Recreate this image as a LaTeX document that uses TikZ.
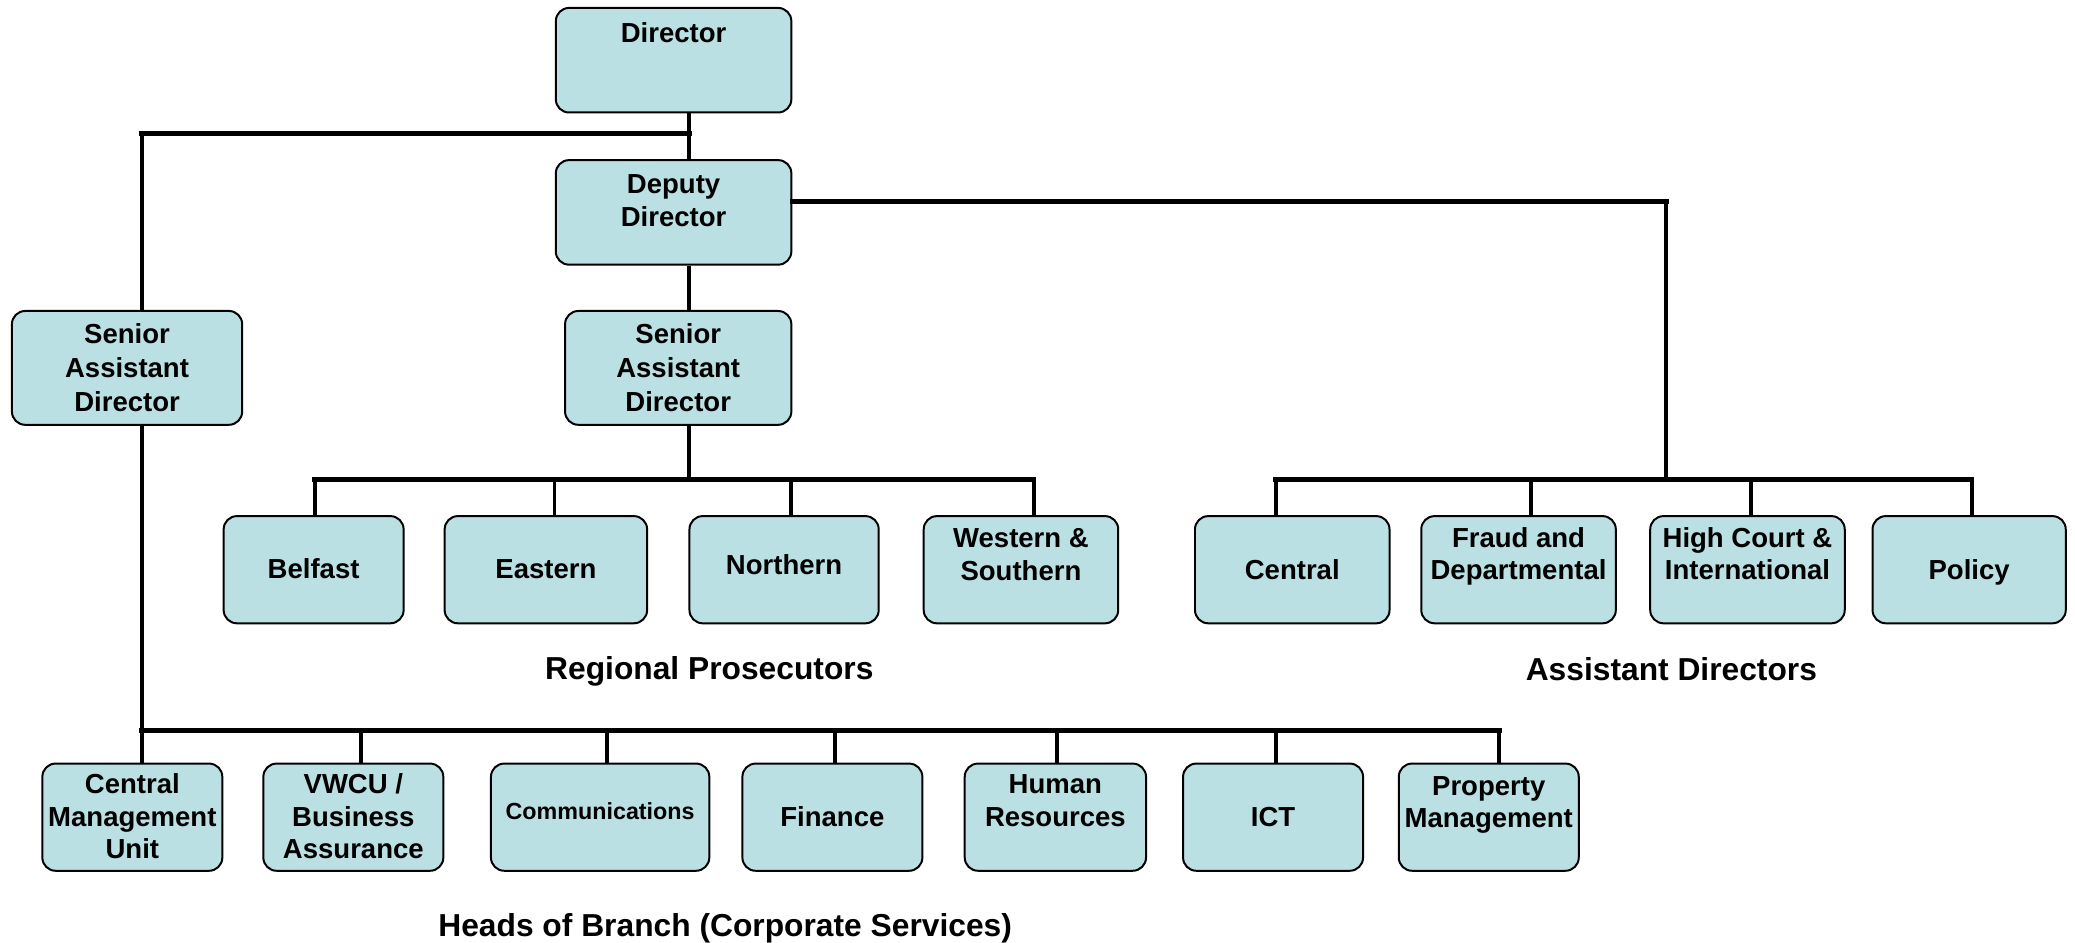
\documentclass[tikz,border=0pt]{standalone}
\usepackage{fontspec}
\setmainfont{Liberation Sans}
\definecolor{boxfill}{RGB}{187,224,227}
\newcommand{\bt}[2]{\raisebox{\dimexpr #1-0.36em\relax}[0pt][0pt]{\begin{tabular}[c]{@{}c@{}}#2\end{tabular}}}
\tikzset{
  orgbox/.style 2 args={draw=black, line width=1.5pt, fill=boxfill, rounded corners=10pt,
    inner sep=0pt, minimum width=#1, minimum height=#2,
    font=\fontsize{20.8}{24.5}\selectfont\bfseries},
  link/.style={line width=3pt},
  bus/.style={line width=3.8pt, line cap=rect},
  grouplabel/.style={font=\fontsize{24}{28}\selectfont\bfseries, inner sep=0pt},
}
\begin{document}
\begin{tikzpicture}[x=1pt,y=-1pt]
\fill[white] (0,0) rectangle (1568,712);
\useasboundingbox (0,0) rectangle (1568,712);

% top
\node[orgbox={178pt}{79pt}] (dir) at (509,45.5) {\bt{20.5pt}{Director}};
\node[orgbox={178pt}{79pt}] (dep) at (509,160.5) {\bt{9pt}{Deputy\\Director}};
\node[orgbox={174pt}{86pt}, font=\fontsize{20.8}{25.5}\selectfont\bfseries] (sad1) at (96,278) {\bt{0pt}{Senior\\Assistant\\Director}};
\node[orgbox={171pt}{86pt}, font=\fontsize{20.8}{25.5}\selectfont\bfseries] (sad2) at (512.5,278) {\bt{0pt}{Senior\\Assistant\\Director}};

% regional prosecutors
\node[orgbox={136pt}{81pt}] (belfast) at (237,430.5) {\bt{0.5pt}{Belfast}};
\node[orgbox={153pt}{81pt}] (eastern) at (412.5,430.5) {\bt{0.5pt}{Eastern}};
\node[orgbox={143pt}{81pt}] (northern) at (592.5,430.5) {\bt{3.5pt}{Northern}};
\node[orgbox={147pt}{81pt}] (western) at (771.5,430.5) {\bt{11.5pt}{Western \&\\Southern}};

% assistant directors
\node[orgbox={147pt}{81pt}] (central) at (976.5,430.5) {\bt{0pt}{Central}};
\node[orgbox={147pt}{81pt}] (fraud) at (1147.5,430.5) {\bt{12pt}{Fraud and\\Departmental}};
\node[orgbox={147pt}{81pt}] (high) at (1320.5,430.5) {\bt{12pt}{High Court \&\\International}};
\node[orgbox={146pt}{81pt}] (policy) at (1488,430.5) {\bt{0pt}{Policy}};

% heads of branch
\node[orgbox={136pt}{81pt}] (cmu) at (100,617.5) {\bt{0.5pt}{Central\\Management\\Unit}};
\node[orgbox={136pt}{81pt}] (vwcu) at (267,617.5) {\bt{0.5pt}{VWCU /\\Business\\Assurance}};
\node[orgbox={165pt}{81pt}, font=\fontsize{17.6}{21}\selectfont\bfseries] (comm) at (453.5,617.5) {\bt{4.5pt}{Communications}};
\node[orgbox={136pt}{81pt}] (fin) at (629,617.5) {\bt{0.5pt}{Finance}};
\node[orgbox={137pt}{81pt}] (hr) at (797.5,617.5) {\bt{12.5pt}{Human\\Resources}};
\node[orgbox={136pt}{81pt}] (ict) at (962,617.5) {\bt{0.5pt}{ICT}};
\node[orgbox={136pt}{81pt}] (prop) at (1125,617.5) {\bt{11.5pt}{Property\\Management}};

% group labels
\node[grouplabel] (lreg) at (536,507.5) {Regional Prosecutors};
\node[grouplabel] (lad) at (1263,506) {Assistant Directors};
\node[grouplabel] (lhob) at (548,701.5) {Heads of Branch (Corporate Services)};

% junctions
\coordinate (j1) at (521,101);
\coordinate (jL) at (107,101);
\coordinate (jR) at (1259,152);
\coordinate (rb) at (0,362);
\coordinate (bb) at (0,552);

% drop points
\foreach \n/\s in {belfast/1, eastern/6.5, northern/5.5, western/9.5,
                   central/-12.5, fraud/9.5, high/2.5, policy/2,
                   cmu/7, vwcu/6, comm/5.5, fin/2, hr/1.5, ict/2, prop/8}
  \coordinate (d\n) at ([xshift=\s pt]\n.north);

% top connectors
\draw[link] (dir.south -| j1) -- (dep.north -| j1);
\draw[bus] (jL) -- (j1);
\draw[link] (jL) -- (sad1.north -| jL);
\draw[link] (dep.south -| j1) -- (sad2.north -| j1);
\draw[bus] (dep.east |- jR) -- (jR);
\draw[link] (jR) -- (jR |- rb);
\draw[link] (sad2.south -| j1) -- (j1 |- rb);

% regional bus
\draw[bus] (dbelfast |- rb) -- (dwestern |- rb);
\foreach \n in {belfast, eastern, northern, western}
  \draw[link] (d\n |- rb) -- (d\n);

% assistant directors bus
\draw[bus] (dcentral |- rb) -- (dpolicy |- rb);
\foreach \n in {central, fraud, high, policy}
  \draw[link] (d\n |- rb) -- (d\n);

% heads of branch bus
\draw[link] (sad1.south -| dcmu) -- (dcmu |- bb);
\draw[bus] (dcmu |- bb) -- (dprop |- bb);
\foreach \n in {cmu, vwcu, comm, fin, hr, ict, prop}
  \draw[link] (d\n |- bb) -- (d\n);
\end{tikzpicture}
\end{document}
